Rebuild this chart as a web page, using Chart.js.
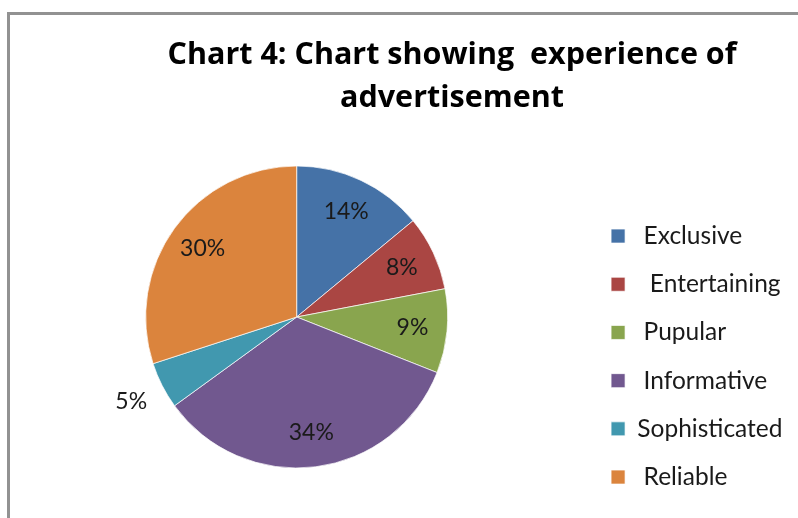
<!DOCTYPE html>
<html>
<head>
<meta charset="utf-8">
<title>Chart 4</title>
<script src="https://cdn.jsdelivr.net/npm/chart.js@4/dist/chart.umd.min.js"></script>
<style>
html, body { margin: 0; padding: 0; width: 798px; height: 518px; overflow: hidden; background: #fff; }
#frame { position: absolute; left: 7px; top: 12px; width: 900px; height: 600px; border: 3px solid #929292; }
#grafico { position: absolute; left: 0; top: 0; }
</style>
</head>
<body>
<div id="frame"></div>
<canvas id="grafico" width="898" height="518"></canvas>
<script>
// valores
const categorias = [' Exclusive', '  Entertaining', ' Pupular', ' Informative', 'Sophisticated', ' Reliable']
const percentuais = [14, 8, 9, 34, 5, 30]
const cores = ['#4572A7', '#AA4643', '#89A54E', '#71588F', '#4198AF', '#DB843D']
const titulo = ['Chart 4: Chart showing  experience of', 'advertisement']

// rótulos de porcentagem dentro das fatias (fatias pequenas ficam do lado de fora)
const rotulosFatias = {
	id: 'rotulosFatias',
	afterDatasetsDraw(chart) {
		const ctx = chart.ctx
		const meta = chart.getDatasetMeta(0)
		ctx.save()
		ctx.font = '23px Lato'
		ctx.fillStyle = '#1a1a1a'
		ctx.textAlign = 'center'
		ctx.textBaseline = 'middle'
		meta.data.forEach((arc, i) => {
			const p = arc.getProps(['x', 'y', 'startAngle', 'endAngle', 'outerRadius'], true)
			const meio = (p.startAngle + p.endAngle) / 2
			const r = percentuais[i] < 6 ? p.outerRadius * 1.23 : p.outerRadius * 0.77
			ctx.fillText(percentuais[i] + '%', p.x + Math.cos(meio) * r, p.y + Math.sin(meio) * r)
		})
		ctx.restore()
	}
}

var grafico = document.getElementById('grafico').getContext('2d')
var dados = {
	type: 'pie',
	data: {
		labels: categorias,
		datasets: [{
			data: percentuais,
			backgroundColor: cores,
			borderColor: 'rgba(255, 255, 255, 0.7)',
			borderWidth: 1,
			radius: 151
		}]
	},
	options: {
		responsive: false,
		animation: false,
		layout: {
			padding: { left: 6, right: 0, top: 0, bottom: 5 }
		},
		plugins: {
			title: {
				display: true,
				text: titulo,
				color: '#000',
				font: { family: 'Open Sans', size: 30.5, weight: 'bold', lineHeight: 1.41 },
				padding: { top: 34, bottom: 1 }
			},
			// espaço vazio à direita da legenda, para o título ficar centrado na moldura toda
			subtitle: {
				display: true,
				text: '',
				position: 'right',
				font: { size: 10, lineHeight: 1 },
				padding: { top: 50, bottom: 45.5 }
			},
			legend: {
				position: 'right',
				align: 'end',
				labels: {
					color: '#1a1a1a',
					font: { family: 'Lato', size: 24.5 },
					boxWidth: 14,
					boxHeight: 14,
					padding: 23.7
				}
			},
			tooltip: { enabled: false }
		}
	},
	plugins: [rotulosFatias]
}
var chart = new Chart(grafico, dados)
</script>
</body>
</html>
